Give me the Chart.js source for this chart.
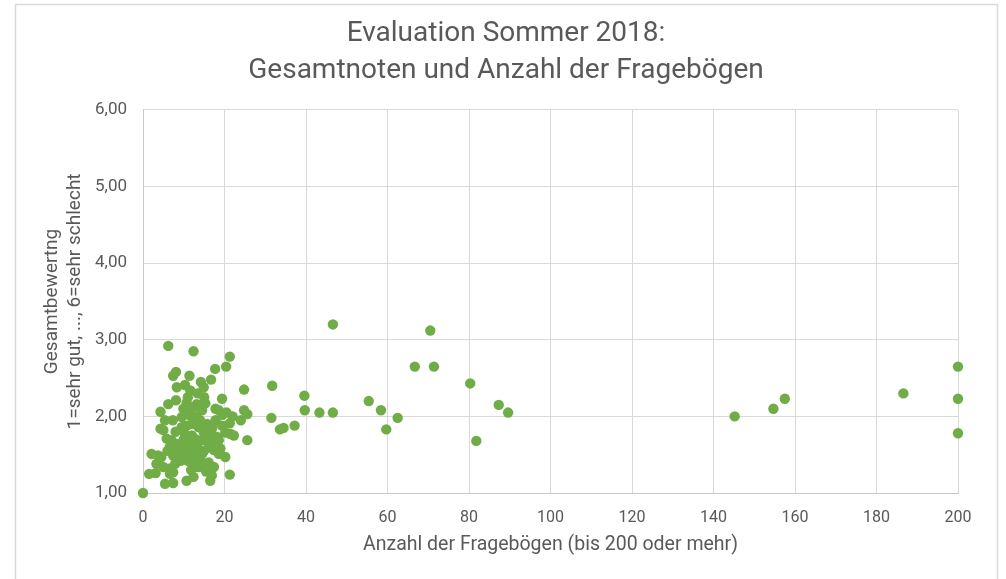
<!DOCTYPE html>
<html>
<head>
<meta charset="utf-8">
<script src="https://cdn.jsdelivr.net/npm/chart.js@4.4.1/dist/chart.umd.min.js"></script>
<style>
  html, body { margin: 0; padding: 0; background: #fff; }
  #wrap { width: 1006px; height: 579px; position: relative; }
</style>
</head>
<body>
<div id="wrap"><canvas id="chart" width="1006" height="579"></canvas></div>
<script>
'use strict';

// Anzahl der Fragebögen (x) und Gesamtnote (y), je Veranstaltung
const anzahl = [
  6.2, 12.4, 21.3, 20.4, 17.7, 7.4, 8.1, 11.4, 14.2, 16.7, 10.3, 8.3, 14.9, 11.6, 13.4, 24.8,
  19.4, 6.2, 8.1, 10.7, 13.2, 15.3, 9.9, 12.4, 14.5, 4.3, 17.8, 18.6, 20.5, 24.8, 25.6, 24.0,
  5.4, 7.3, 9.5, 11.6, 10.7, 14.0, 13.6, 15.7, 17.8, 19.4, 21.3, 4.3, 5.0, 9.5, 10.3, 12.0,
  14.9, 16.9, 18.2, 20.2, 21.5, 22.3, 25.6, 5.8, 7.0, 8.3, 9.9, 11.6, 14.5, 16.1, 16.9, 18.6,
  19.0, 6.6, 7.4, 8.7, 10.7, 12.4, 13.6, 16.1, 17.4, 2.1, 3.7, 4.5, 7.4, 8.7, 9.9, 11.6,
  12.8, 14.5, 18.6, 20.2, 3.3, 5.0, 6.6, 7.9, 12.4, 13.6, 14.9, 16.1, 17.4, 1.5, 3.1, 6.6,
  7.4, 10.7, 12.4, 16.5, 16.9, 21.3, 5.4, 7.4, 0,
  11.0, 13.0, 15.0, 12.0, 10.0, 13.0, 15.0, 11.0, 9.0, 8.0, 6.0, 14.0, 17.0, 19.5, 22.0, 10.5,
  12.5, 9.2, 15.5, 11.8,
  31.7, 31.5, 46.6, 70.5, 66.7, 71.4, 80.3, 39.6, 55.4, 58.4, 87.3, 89.6, 39.7, 43.3, 46.6, 62.5,
  33.6, 34.5, 37.2, 59.7, 81.8, 145.2, 154.7, 157.5, 186.6, 200, 200, 200,
];
const noten = [
  2.92, 2.85, 2.78, 2.65, 2.62, 2.53, 2.58, 2.53, 2.45, 2.48, 2.41, 2.38, 2.38, 2.34, 2.30, 2.35,
  2.23, 2.16, 2.21, 2.18, 2.16, 2.17, 2.10, 2.12, 2.08, 2.06, 2.10, 2.08, 2.05, 2.08, 2.03, 1.95,
  1.95, 1.95, 1.99, 2.01, 1.88, 1.95, 1.86, 1.90, 1.95, 1.88, 1.91, 1.84, 1.82, 1.86, 1.77, 1.75,
  1.79, 1.77, 1.73, 1.79, 1.77, 1.75, 1.69, 1.71, 1.69, 1.64, 1.66, 1.64, 1.69, 1.71, 1.64, 1.69,
  1.58, 1.60, 1.56, 1.62, 1.58, 1.53, 1.58, 1.60, 1.56, 1.51, 1.49, 1.47, 1.49, 1.47, 1.51, 1.47,
  1.49, 1.51, 1.51, 1.47, 1.38, 1.34, 1.32, 1.38, 1.38, 1.34, 1.38, 1.40, 1.34, 1.25, 1.26, 1.25,
  1.27, 1.16, 1.21, 1.16, 1.23, 1.24, 1.12, 1.13, 1.00,
  2.25, 2.00, 2.25, 1.90, 1.70, 1.70, 1.55, 1.42, 1.55, 1.80, 1.55, 1.45, 1.85, 2.02, 2.00, 2.05,
  1.60, 1.42, 1.28, 1.30,
  2.40, 1.98, 3.20, 3.12, 2.65, 2.65, 2.43, 2.27, 2.20, 2.08, 2.15, 2.05, 2.08, 2.05, 2.05, 1.98,
  1.83, 1.85, 1.88, 1.83, 1.68, 2.00, 2.10, 2.23, 2.30, 2.65, 2.23, 1.78,
];

const xTicks = ['0', '20', '40', '60', '80', '100', '120', '140', '160', '180', '200'];
const yTicks = ['1,00', '2,00', '3,00', '4,00', '5,00', '6,00'];

const points = anzahl.map((x, i) => ({ x: x, y: noten[i] }));

// Rahmen um das Diagramm (wie in Excel)
const frame = {
  id: 'frame',
  beforeDraw(chart) {
    const ctx = chart.ctx;
    ctx.save();
    ctx.strokeStyle = '#d9d9d9';
    ctx.lineWidth = 1.5;
    ctx.beginPath();
    ctx.moveTo(15.5, 600);
    ctx.lineTo(15.5, 4.5);
    ctx.lineTo(997.5, 4.5);
    ctx.lineTo(997.5, 600);
    ctx.stroke();
    ctx.restore();
  },
};

const font = 'Roboto, "Open Sans", sans-serif';
const grey = '#595959';

// eslint-disable-next-line no-new,no-undef
new Chart(document.getElementById('chart'), {
  type: 'scatter',
  data: {
    datasets: [
      {
        label: 'Gesamtnoten',
        data: points,
        backgroundColor: '#70ad47',
        borderWidth: 0,
        pointRadius: 5.2,
        pointHoverRadius: 5.2,
        clip: false,
      },
    ],
  },
  options: {
    responsive: false,
    animation: false,
    layout: {
      padding: { left: 15, right: 9, top: 4, bottom: 14 },
    },
    plugins: {
      legend: { display: false },
      tooltip: { enabled: false },
      title: {
        display: true,
        text: ['Evaluation Sommer 2018:', 'Gesamtnoten und Anzahl der Fragebögen'],
        color: grey,
        font: { family: font, size: 28, weight: 'normal', lineHeight: 1.32 },
        padding: { top: 11.5, bottom: 20.5 },
      },
    },
    scales: {
      x: {
        type: 'linear',
        min: 0,
        max: 200,
        ticks: {
          stepSize: 20,
          color: grey,
          padding: 15,
          font: { family: font, size: 16 },
          callback: (v) => xTicks[v / 20],
        },
        grid: { color: '#d9d9d9', lineWidth: 1, drawTicks: false },
        border: { color: '#c8c8c8', width: 1 },
        title: {
          display: true,
          text: 'Anzahl der Fragebögen (bis 200 oder mehr)',
          color: grey,
          font: { family: font, size: 19.5 },
          padding: { top: 4, bottom: 8 },
        },
        afterFit: (s) => { s.height = 72; },
      },
      y: {
        min: 1,
        max: 6,
        ticks: {
          stepSize: 1,
          color: grey,
          padding: 16,
          font: { family: font, size: 17 },
          callback: (v) => yTicks[v - 1],
        },
        grid: { color: '#d9d9d9', lineWidth: 1, drawTicks: false },
        border: { color: '#c8c8c8', width: 1 },
        title: {
          display: true,
          text: ['Gesamtbewertng', '1=sehr gut, ..., 6=sehr schlecht'],
          color: grey,
          font: { family: font, size: 19, lineHeight: 1.21 },
          padding: { top: 26, bottom: 0 },
        },
        afterFit: (s) => { s.width = 128; },
      },
      // leere Achse rechts, damit der Titel mittig im Rahmen steht
      rand: {
        position: 'right',
        display: true,
        grid: { display: false },
        ticks: { display: false },
        border: { display: false },
        afterFit: (s) => { s.width = 39; },
      },
    },
  },
  plugins: [frame],
});
</script>
</body>
</html>
